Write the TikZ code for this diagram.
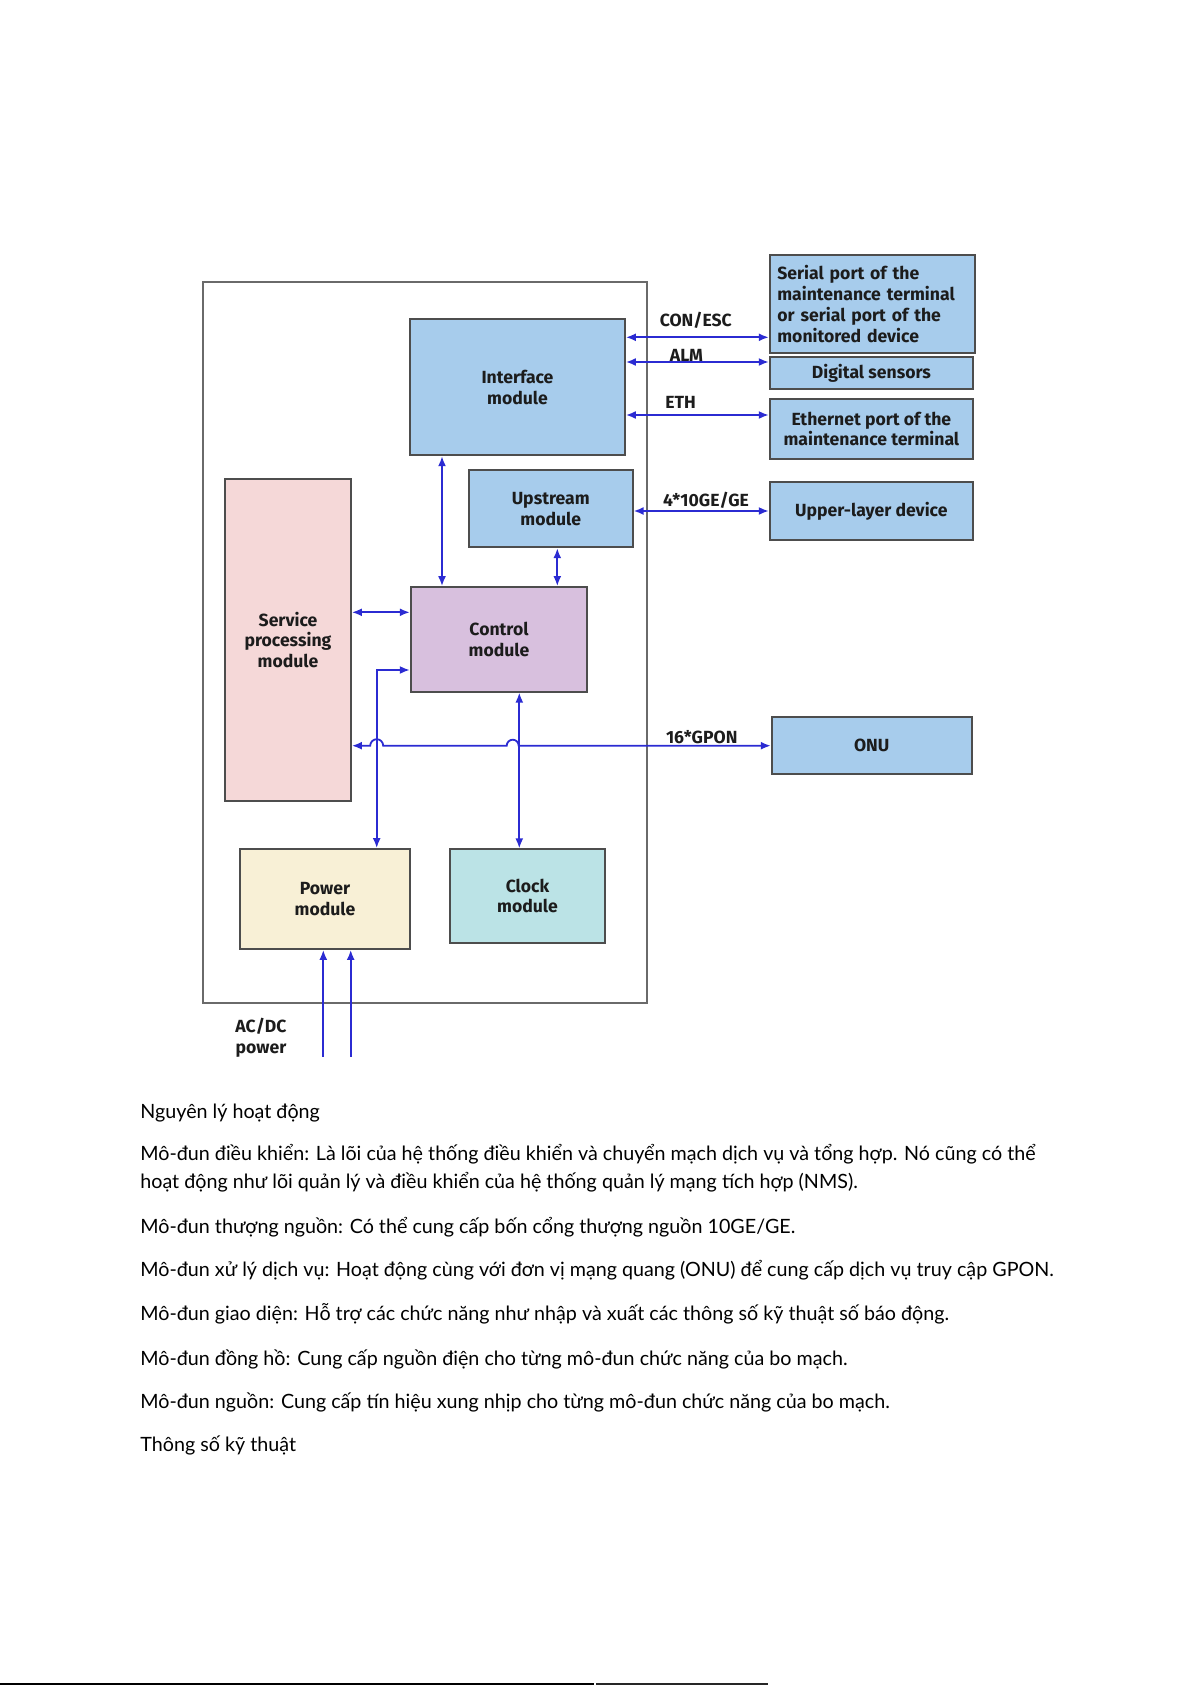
\documentclass[tikz,border=0pt]{standalone}
\usepackage{fontspec}
\setmainfont{Lato}
\newfontfamily\diagfont{Fira Sans}
\usetikzlibrary{arrows.meta}
\definecolor{boxblue}{HTML}{A7CCEC}
\definecolor{svcpink}{HTML}{F5D8D8}
\definecolor{ctrlpurple}{HTML}{D8C0DE}
\definecolor{pwrcream}{HTML}{F8F0D6}
\definecolor{clkcyan}{HTML}{BBE3E6}
\definecolor{edgegray}{HTML}{4D4D4D}
\definecolor{boardgray}{HTML}{6A6A6A}
\definecolor{linkblue}{HTML}{2B2BD2}
\definecolor{txtdark}{HTML}{1C1C1C}
\begin{document}
\begin{tikzpicture}[x=0.5pt,y=-0.5pt,
  sz/.style 2 args={minimum width=#1*0.5pt, minimum height=#2*0.5pt},
  mod/.style={draw=edgegray, line width=0.9pt, inner sep=0pt, font=\diagfont\bfseries\fontsize{8.8}{10.4}\selectfont, text=txtdark, align=center},
  lbl/.style={font=\diagfont\bfseries\fontsize{8.8}{10.4}\selectfont, text=txtdark, inner sep=0pt, align=center},
  link/.style={draw=linkblue, line width=0.9pt},
  both/.style={link, {Latex[length=5pt,width=4pt]}-{Latex[length=5pt,width=4pt]}},
  toend/.style={link, -{Latex[length=5pt,width=4pt]}},
  para/.style={anchor=base west, inner sep=0pt, font=\fontsize{9.85}{12}\selectfont}
]
\useasboundingbox (0,0) rectangle (1191,1685);
% board
\node[draw=boardgray, line width=0.9pt, inner sep=0pt, sz={443.4}{721.6}] (board) at (425,642.5) {};
% modules
\node[mod, fill=boxblue, sz={215}{136}] (iface) at (517.5,387.3) {Interface\\module};
\node[mod, fill=boxblue, sz={164}{77.3}] (up) at (550.7,508.65) {Upstream\\module};
\node[mod, fill=svcpink, sz={126}{321.4}] (svc) at (288,640) {Service\\processing\\module};
\node[mod, fill=ctrlpurple, sz={176.6}{104.7}] (ctrl) at (499,639.35) {Control\\module};
\node[mod, fill=pwrcream, sz={170}{100}] (power) at (325,899) {Power\\module};
\node[mod, fill=clkcyan, sz={155}{93.4}] (clock) at (527.5,896) {Clock\\module};
% external devices
\node[mod, fill=boxblue, sz={205.3}{98.3}, text width=95pt, align=left] (serial) at (872.35,304.15) {Serial port of the\\maintenance terminal\\or serial port of the\\monitored device};
\node[mod, fill=boxblue, sz={203.3}{32}] (digital) at (871.35,373.3) {Digital sensors};
\node[mod, fill=boxblue, sz={203.3}{60}] (eth) at (871.35,429) {Ethernet port of the\\maintenance terminal};
\node[mod, fill=boxblue, sz={203.3}{57.7}] (upper) at (871.35,511.15) {Upper-layer device};
\node[mod, fill=boxblue, sz={200}{57.6}] (onu) at (871.7,745.5) {ONU};
% connectors
\draw[both] (iface.east |- 0,337.3) -- (serial.west |- 0,337.3);
\draw[both] (iface.east |- 0,362) -- (digital.west |- 0,362);
\draw[both] (iface.east |- 0,415) -- (eth.west |- 0,415);
\draw[both] (up.east |- 0,511) -- (upper.west |- 0,511);
\draw[both] (iface.south -| 442,0) -- (ctrl.north -| 442,0);
\draw[both] (up.south -| 557.3,0) -- (ctrl.north -| 557.3,0);
\draw[both] (svc.east |- 0,612.3) -- (ctrl.west |- 0,612.3);
\draw[both] (ctrl.west |- 0,670) -| (power.north -| 376.7,0);
\draw[both] (ctrl.south -| 519.3,0) -- (clock.north -| 519.3,0);
\draw[both] (svc.east |- 0,745.7) -- (370.2,745.7) arc[start angle=180,end angle=0,radius=3.25pt] -- (506.7,745.7) arc[start angle=180,end angle=0,radius=3pt] -- (onu.west |- 0,745.7);
\coordinate (acA) at (323.3,1056.7);
\coordinate (acB) at (350.7,1056.7);
\draw[toend] (acA) -- (acA |- power.south);
\draw[toend] (acB) -- (acB |- power.south);
% connector labels
\node[lbl] (lcon) at (695.8,320.7) {CON/ESC};
\node[lbl] (lalm) at (686.4,355.7) {ALM};
\node[lbl] (leth) at (680.7,402) {ETH};
\node[lbl] (lup) at (706,500) {4*10GE/GE};
\node[lbl] (lgpon) at (701.7,737.3) {16*GPON};
\node[lbl] (lac) at (261,1038) {AC/DC\\power};
% body text
\node[para] (t1) at (140,1118) {Nguyên lý hoạt động};
\node[para] (t2) at (140,1160) {Mô-đun điều khiển: Là lõi của hệ thống điều khiển và chuyển mạch dịch vụ và tổng hợp. Nó cũng có thể};
\node[para] (t3) at (140,1188.3) {hoạt động như lõi quản lý và điều khiển của hệ thống quản lý mạng tích hợp (NMS).};
\node[para] (t4) at (140,1233) {Mô-đun thượng nguồn: Có thể cung cấp bốn cổng thượng nguồn 10GE/GE.};
\node[para] (t5) at (140,1276.5) {Mô-đun xử lý dịch vụ: Hoạt động cùng với đơn vị mạng quang (ONU) để cung cấp dịch vụ truy cập GPON.};
\node[para] (t6) at (140,1320) {Mô-đun giao diện: Hỗ trợ các chức năng như nhập và xuất các thông số kỹ thuật số báo động.};
\node[para] (t7) at (140,1365) {Mô-đun đồng hồ: Cung cấp nguồn điện cho từng mô-đun chức năng của bo mạch.};
\node[para] (t8) at (140,1408) {Mô-đun nguồn: Cung cấp tín hiệu xung nhịp cho từng mô-đun chức năng của bo mạch.};
\node[para] (t9) at (140,1451.5) {Thông số kỹ thuật};
% page edge line
\draw[black, line width=1pt] (0,1684) -- (594,1684);
\draw[black!85, line width=1pt] (596,1684) -- (768,1684);
\end{tikzpicture}
\end{document}
